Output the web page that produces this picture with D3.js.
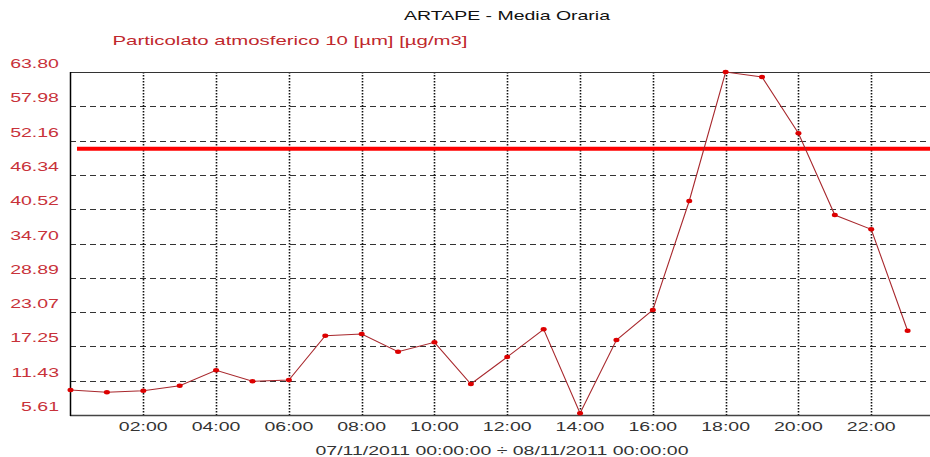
<!DOCTYPE html>
<html><head><meta charset="utf-8">
<script src="https://cdn.jsdelivr.net/npm/d3@7"></script>
<style>body{margin:0;background:#fff;}svg{display:block;}</style>
</head><body>
<svg id="c" width="930" height="457"></svg>
<script>
const title = "ARTAPE - Media Oraria";
const subtitle = "Particolato atmosferico 10 [µm] [µg/m3]";
const xLabel = "07/11/2011 00:00:00 \u00F7 08/11/2011 00:00:00";
const hours = [0,1,2,3,4,5,6,7,8,9,10,11,12,13,14,15,16,17,18,19,20,21,22,23];
const values = [9.85,9.46,9.73,10.58,13.19,11.33,11.55,19.06,19.35,16.35,17.94,10.87,15.45,20.15,5.90,18.33,23.42,41.92,63.80,62.95,53.40,39.54,37.11,19.91];
const yTicks = [5.61,11.43,17.25,23.07,28.89,34.70,40.52,46.34,52.16,57.98,63.80];
const xTicks = [2,4,6,8,10,12,14,16,18,20,22];
const xTickLabels = ["02:00","04:00","06:00","08:00","10:00","12:00","14:00","16:00","18:00","20:00","22:00"];
const threshold = 50.8;

const svg = d3.select("#c");
const W = 930, L = 70, T = 72, B = 415;
const x = d3.scaleLinear().domain([0,24]).range([70.5, 944]);
const y = d3.scaleLinear().domain([5.61,63.80]).range([B, T]);
const FONT = "'Liberation Sans', Arial, sans-serif";
const STRETCH = 1.5;

function stretchText(sel){
  sel.each(function(){
    const w = this.getComputedTextLength();
    d3.select(this).attr("textLength", w*STRETCH).attr("lengthAdjust","spacingAndGlyphs");
  });
}

// horizontal dashed grid
svg.append("g").selectAll("line").data(yTicks.slice(1,-1)).join("line")
  .attr("x1", L).attr("x2", W)
  .attr("y1", d => Math.round(y(d))+0.5).attr("y2", d => Math.round(y(d))+0.5)
  .attr("stroke", "#333").attr("stroke-width", 1).attr("stroke-dasharray", "6,4");

// vertical dotted grid
svg.append("g").selectAll("line").data(xTicks).join("line")
  .attr("x1", d => Math.round(x(d))+0.5).attr("x2", d => Math.round(x(d))+0.5)
  .attr("y1", T).attr("y2", B)
  .attr("stroke", "#111").attr("stroke-width", 1.6).attr("stroke-dasharray", "1.5,1.5");

// frame
svg.append("line").attr("x1", L).attr("x2", W).attr("y1", T+0.5).attr("y2", T+0.5).attr("stroke", "#333");
svg.append("line").attr("x1", L).attr("x2", W).attr("y1", B+0.5).attr("y2", B+0.5).attr("stroke", "#444").attr("stroke-width", 1.5);
svg.append("line").attr("x1", L+0.5).attr("x2", L+0.5).attr("y1", T).attr("y2", B+1).attr("stroke", "#000").attr("stroke-width", 1.5);

// threshold
svg.append("line").attr("x1", 77).attr("x2", W)
  .attr("y1", y(threshold)).attr("y2", y(threshold))
  .attr("stroke", "#ff0000").attr("stroke-width", 4);

// data line
const data = hours.map((h,i) => ({h, v: values[i]}));
svg.append("path").datum(data)
  .attr("fill", "none").attr("stroke", "#a8282d").attr("stroke-width", 1.1)
  .attr("d", d3.line().x(d => x(d.h)).y(d => y(d.v)));
svg.append("g").selectAll("ellipse").data(data).join("ellipse")
  .attr("cx", d => x(d.h)).attr("cy", d => y(d.v))
  .attr("rx", 3).attr("ry", 2.2).attr("fill", "#dd0000");

// y labels
svg.append("g").selectAll("text").data(yTicks).join("text")
  .attr("x", 59).attr("y", d => y(d) - 4)
  .attr("text-anchor", "end").attr("font-family", FONT).attr("font-size", 13)
  .attr("fill", "#c8323a").text(d => d.toFixed(2)).call(stretchText);

// x labels
svg.append("g").selectAll("text").data(xTicks).join("text")
  .attr("x", d => x(d)).attr("y", 431)
  .attr("text-anchor", "middle").attr("font-family", FONT).attr("font-size", 13)
  .attr("fill", "#333").text((d,i) => xTickLabels[i]).call(stretchText);

svg.append("text").attr("x", 502).attr("y", 455).attr("text-anchor", "middle")
  .attr("font-family", FONT).attr("font-size", 13).attr("fill", "#333")
  .text(xLabel).attr("textLength", 373).attr("lengthAdjust", "spacingAndGlyphs");

svg.append("text").attr("x", 507).attr("y", 20).attr("text-anchor", "middle")
  .attr("font-family", FONT).attr("font-size", 13).attr("fill", "#111")
  .text(title).attr("textLength", 206).attr("lengthAdjust", "spacingAndGlyphs");

svg.append("text").attr("x", 290).attr("y", 45).attr("text-anchor", "middle")
  .attr("font-family", FONT).attr("font-size", 13).attr("fill", "#c0282d")
  .text(subtitle).attr("textLength", 355).attr("lengthAdjust", "spacingAndGlyphs");
</script>
</body></html>
